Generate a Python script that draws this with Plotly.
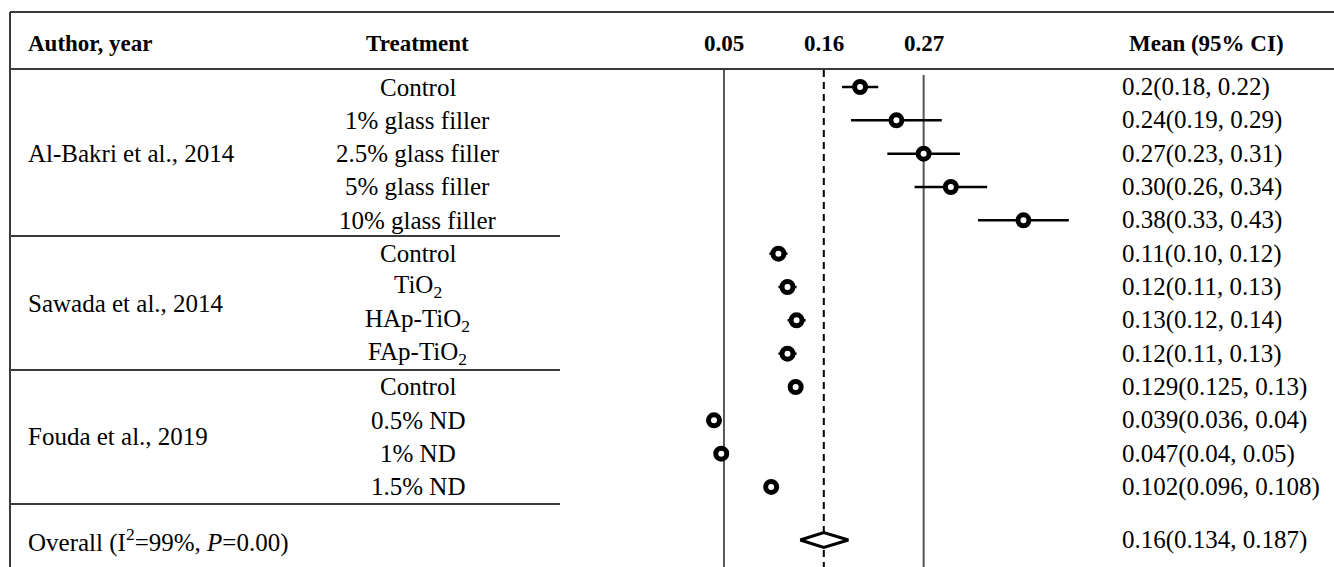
import plotly.graph_objects as go

# ---------------- data ----------------
authors = ["Al-Bakri et al., 2014", "Sawada et al., 2014", "Fouda et al., 2019"]
group_sizes = [5, 4, 4]
treatments = ["Control", "1% glass filler", "2.5% glass filler", "5% glass filler", "10% glass filler",
              "Control", "TiO<sub>2</sub>", "HAp-TiO<sub>2</sub>", "FAp-TiO<sub>2</sub>",
              "Control", "0.5% ND", "1% ND", "1.5% ND"]
means = [0.20, 0.24, 0.27, 0.30, 0.38, 0.11, 0.12, 0.13, 0.12, 0.129, 0.039, 0.047, 0.102]
lows = [0.18, 0.19, 0.23, 0.26, 0.33, 0.10, 0.11, 0.12, 0.11, 0.125, 0.036, 0.04, 0.096]
highs = [0.22, 0.29, 0.31, 0.34, 0.43, 0.12, 0.13, 0.14, 0.13, 0.13, 0.04, 0.05, 0.108]
ci_labels = ["0.2(0.18, 0.22)", "0.24(0.19, 0.29)", "0.27(0.23, 0.31)", "0.30(0.26, 0.34)",
             "0.38(0.33, 0.43)", "0.11(0.10, 0.12)", "0.12(0.11, 0.13)", "0.13(0.12, 0.14)",
             "0.12(0.11, 0.13)", "0.129(0.125, 0.13)", "0.039(0.036, 0.04)", "0.047(0.04, 0.05)",
             "0.102(0.096, 0.108)"]
overall_mean, overall_low, overall_high = 0.16, 0.134, 0.187
overall_label = "0.16(0.134, 0.187)"
overall_text = "Overall (I<sup>2</sup>=99%, <i>P</i>=0.00)"
ref_lines = [0.05, 0.16, 0.27]

# ---------------- layout geometry ----------------
W, H = 1334, 567
PX0, PXU = 678.6, 907.5        # pixel of value 0, pixels per unit
ROW0, ROWH = 87.0, 33.33       # pixel of first row, row height
FONT = "Liberation Serif, Times New Roman, serif"
FS = 25
FS_HEAD = 23


def py(p):  # pixel y -> row units
    return (p - ROW0) / ROWH


def ppx(p):  # pixel x -> paper
    return p / W


n = len(means)
rows = list(range(n))
overall_row = py(540)
header_row = py(43)

fig = go.Figure()

# CI whiskers + markers
fig.add_trace(go.Scatter(
    x=means, y=rows, mode="markers",
    marker=dict(symbol="circle", size=11, color="white", line=dict(color="black", width=5)),
    error_x=dict(type="data", symmetric=False,
                 array=[h - m for h, m in zip(highs, means)],
                 arrayminus=[m - l for m, l in zip(means, lows)],
                 width=0, thickness=2.5, color="black"),
    hoverinfo="skip", showlegend=False))

# overall diamond
dh = 7.5 / ROWH
fig.add_trace(go.Scatter(
    x=[overall_low, overall_mean, overall_high, overall_mean, overall_low],
    y=[overall_row, overall_row - dh, overall_row, overall_row + dh, overall_row],
    mode="lines", fill="toself", fillcolor="white",
    line=dict(color="black", width=3), hoverinfo="skip", showlegend=False))

shapes = []
line_col = "#3a3a3a"
# table border lines
shapes.append(dict(type="line", xref="paper", yref="y", x0=ppx(10), x1=1, y0=py(12), y1=py(12),
                   line=dict(color=line_col, width=2)))
shapes.append(dict(type="line", xref="paper", yref="y", x0=ppx(10), x1=1, y0=py(69), y1=py(69),
                   line=dict(color=line_col, width=2)))
shapes.append(dict(type="line", xref="paper", yref="y", x0=ppx(10), x1=ppx(10), y0=py(12), y1=py(H),
                   line=dict(color=line_col, width=2)))
for sep in [236, 370, 504]:
    shapes.append(dict(type="line", xref="paper", yref="y", x0=ppx(10), x1=ppx(560), y0=py(sep), y1=py(sep),
                       line=dict(color=line_col, width=2)))
# reference vertical lines
shapes.append(dict(type="line", xref="x", yref="y", x0=ref_lines[0], x1=ref_lines[0], y0=py(69), y1=py(H),
                   line=dict(color="black", width=1.3), layer="below"))
shapes.append(dict(type="line", xref="x", yref="y", x0=ref_lines[1], x1=ref_lines[1], y0=py(70), y1=py(H),
                   line=dict(color="black", width=2, dash="7px,5px"), layer="below"))
shapes.append(dict(type="line", xref="x", yref="y", x0=ref_lines[2], x1=ref_lines[2], y0=py(75), y1=py(H),
                   line=dict(color="#555555", width=2), layer="below"))

ann = []


def txt(x, y, s, anchor="left", bold=False, xref="paper", size=FS):
    ann.append(dict(x=x, y=y, xref=xref, yref="y", text=(f"<b>{s}</b>" if bold else s),
                    showarrow=False, xanchor=anchor, yanchor="middle",
                    font=dict(family=FONT, size=size, color="black")))


# headers
txt(ppx(26), header_row, "Author, year", bold=True, size=FS_HEAD)
txt(ppx(418), header_row, "Treatment", anchor="center", bold=True, size=FS_HEAD)
for v in ref_lines:
    txt(v, header_row, f"{v:.2f}", anchor="center", bold=True, xref="x", size=FS_HEAD)
txt(ppx(1206), header_row, "Mean (95% CI)", anchor="center", bold=True, size=FS_HEAD)

# authors (centered on their group)
start = 0
for a, g in zip(authors, group_sizes):
    txt(ppx(26), start + (g - 1) / 2, a)
    start += g

for i, t in enumerate(treatments):
    txt(ppx(418), i, t, anchor="center")
for i, c in enumerate(ci_labels):
    txt(ppx(1120), i, c)

txt(ppx(26), overall_row, overall_text)
txt(ppx(1120), overall_row, overall_label)

fig.update_layout(
    width=W, height=H, margin=dict(l=0, r=0, t=0, b=0),
    paper_bgcolor="white", plot_bgcolor="white",
    xaxis=dict(range=[-PX0 / PXU, (W - PX0) / PXU], domain=[0, 1], visible=False, fixedrange=True),
    yaxis=dict(range=[py(H), py(0)], domain=[0, 1], visible=False, fixedrange=True),
    shapes=shapes, annotations=ann, showlegend=False)

fig.write_html("out.html")
